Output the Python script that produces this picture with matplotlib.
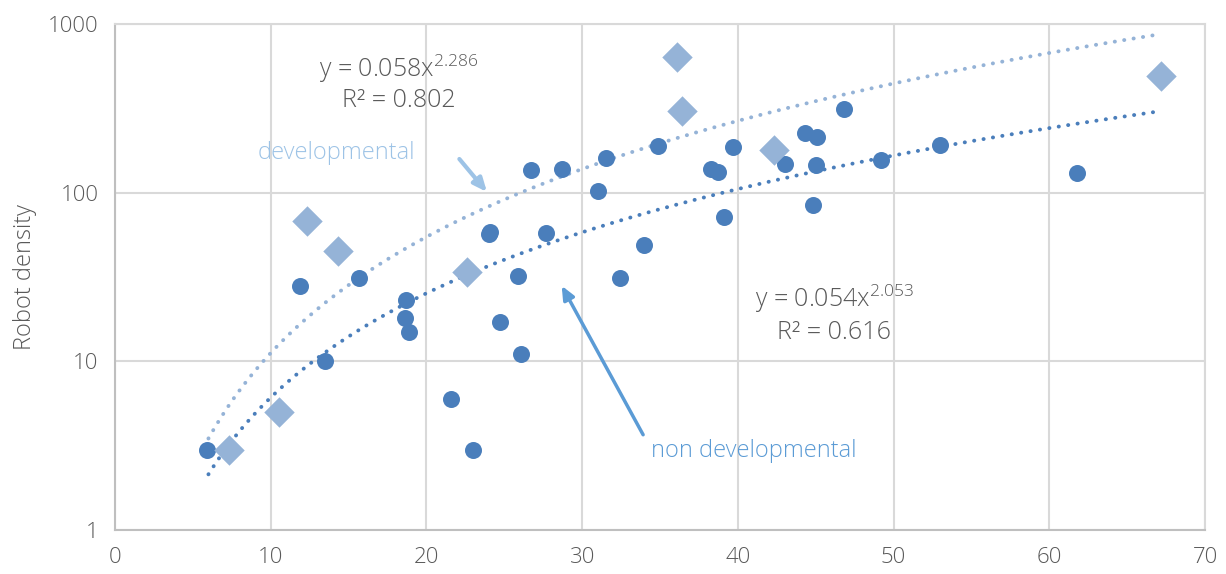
import numpy as np
import matplotlib
matplotlib.use("Agg")
import matplotlib.pyplot as plt

# ---- data ----
nondev_x = [5.9, 11.9, 13.5, 15.7, 18.7, 18.6, 18.9, 21.6, 23.0, 24.0, 24.1,
            24.7, 25.9, 26.1, 26.7, 27.7, 28.7, 31.0, 31.5, 32.4, 34.0, 34.9,
            38.3, 38.7, 39.1, 39.7, 43.0, 44.3, 44.8, 45.1, 45.0, 46.8, 49.2,
            53.0, 61.8]
nondev_y = [3.0, 28, 10, 31, 23, 18, 15, 6.0, 3.0, 57, 58.5,
            17, 32, 11, 136, 58, 139, 102, 161, 31, 49, 188,
            139, 133, 72, 186, 148, 226, 84, 214, 146, 313, 156,
            191, 130]

dev_x = [7.3, 10.5, 12.3, 14.3, 22.6, 36.1, 36.4, 42.3, 67.2]
dev_y = [3.0, 5.0, 68, 45, 34, 640, 305, 180, 490]

# power trendlines as displayed on the chart (y = a * x^b)
dev_a, dev_b, dev_r2 = 0.058, 2.286, 0.802
nondev_a, nondev_b, nondev_r2 = 0.054, 2.053, 0.616
trend_range = (6.0, 67.2)

x_ticks = [0, 10, 20, 30, 40, 50, 60, 70]
y_ticks = [1, 10, 100, 1000]

dark = "#4a7ebb"
light = "#95b3d7"
gray = "#595959"

plt.rcParams["font.family"] = ["Open Sans", "DejaVu Sans"]
plt.rcParams["font.weight"] = "light"
plt.rcParams["mathtext.default"] = "regular"

fig = plt.figure(figsize=(12.26, 5.74), dpi=100)
ax = fig.add_axes([0.0938, 0.0767, 0.8891, 0.8815])

ax.set_yscale("log")
ax.set_xlim(0, 70)
ax.set_ylim(1, 1000)
ax.set_xticks(x_ticks)
ax.set_xticklabels([str(t) for t in x_ticks])
ax.set_yticks(y_ticks)
ax.set_yticklabels([str(t) for t in y_ticks])
ax.minorticks_off()
ax.tick_params(length=0, labelsize=16, colors=gray, pad=12)
ax.grid(True, color="#d9d9d9", linewidth=1.5)
ax.set_axisbelow(True)
for side in ["top", "right"]:
    ax.spines[side].set_color("#d9d9d9")
    ax.spines[side].set_linewidth(1.5)
for side in ["left", "bottom"]:
    ax.spines[side].set_color("#bfbfbf")
    ax.spines[side].set_linewidth(1.5)

ax.set_ylabel("Robot density", fontsize=17, color=gray, labelpad=8,
              fontweight="light")

# trendlines
tx = np.linspace(trend_range[0], trend_range[1], 300)
ax.plot(tx, dev_a * tx ** dev_b, color=light, linestyle=(0, (0.05, 2.4)),
        linewidth=2.8, dash_capstyle="round", zorder=3)
ax.plot(tx, nondev_a * tx ** nondev_b, color=dark, linestyle=(0, (0.05, 2.4)),
        linewidth=2.8, dash_capstyle="round", zorder=3)

# points
ax.scatter(nondev_x, nondev_y, s=150, color=dark, marker="o", zorder=4,
           linewidths=0)
ax.scatter(dev_x, dev_y, s=240, color=light, marker="D", zorder=4,
           linewidths=0)

# trendline labels
ax.text(18.2, 545, "y = %.3fx$^{%.3f}$" % (dev_a, dev_b), ha="center",
        va="center", fontsize=18, color=gray)
ax.text(18.2, 352, "R² = %.3f" % dev_r2, ha="center", va="center",
        fontsize=18, color=gray)
ax.text(46.2, 23.5, "y = %.3fx$^{%.3f}$" % (nondev_a, nondev_b), ha="center",
        va="center", fontsize=18, color=gray)
ax.text(46.2, 14.8, "R² = %.3f" % nondev_r2, ha="center", va="center",
        fontsize=18, color=gray)

# series call-outs
ax.text(9.15, 172, "developmental", ha="left", va="center", fontsize=17,
        color="#9dc3e6")
ax.annotate("", xy=(24.0, 98), xytext=(22.0, 163),
            arrowprops=dict(arrowstyle="-|>,head_length=0.8,head_width=0.35",
                            color="#9dc3e6", lw=3))
ax.text(34.4, 2.94, "non developmental", ha="left", va="center", fontsize=17,
        color="#5b9bd5")
ax.annotate("", xy=(28.6, 29), xytext=(34.0, 3.55),
            arrowprops=dict(arrowstyle="-|>,head_length=0.8,head_width=0.35",
                            color="#5b9bd5", lw=2.5))

fig.savefig("out.png", dpi=100)
